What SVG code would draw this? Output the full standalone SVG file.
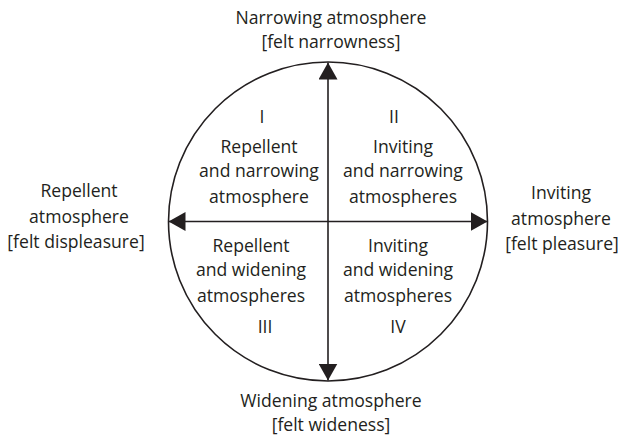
<svg xmlns="http://www.w3.org/2000/svg" width="620" height="437" viewBox="0 0 620 437">
  <style>
    text { font-family: "Open Sans", "Liberation Sans", sans-serif; font-size: 17.6px; fill: #231f20; text-anchor: middle; }
    .axis { stroke: #231f20; stroke-width: 1.6; fill: none; }
  </style>
  <defs>
    <marker id="head" viewBox="0 0 17 19" refX="17" refY="9.5" markerWidth="17" markerHeight="19" markerUnits="userSpaceOnUse" orient="auto">
      <path d="M0,0 L17,9.5 L0,19 Z" fill="#231f20"/>
    </marker>
  </defs>
  <rect width="620" height="437" fill="#ffffff"/>

  <g id="circle">
    <circle cx="328" cy="221.5" r="159.5" class="axis"/>
  </g>

  <g id="connectors">
    <line x1="328" y1="221.5" x2="328" y2="62.5" class="axis" marker-end="url(#head)"/>
    <line x1="328" y1="221.5" x2="328" y2="380.5" class="axis" marker-end="url(#head)"/>
    <line x1="328" y1="221.5" x2="168.5" y2="221.5" class="axis" marker-end="url(#head)"/>
    <line x1="328" y1="221.5" x2="487.5" y2="221.5" class="axis" marker-end="url(#head)"/>
  </g>

  <g id="pole-top">
    <text x="331" y="24">Narrowing atmosphere</text>
    <text x="331" y="48">[felt narrowness]</text>
  </g>
  <g id="pole-bottom">
    <text x="331" y="407">Widening atmosphere</text>
    <text x="331" y="431">[felt wideness]</text>
  </g>
  <g id="pole-left">
    <text x="79" y="197">Repellent</text>
    <text x="79" y="223">atmosphere</text>
    <text x="76" y="248">[felt displeasure]</text>
  </g>
  <g id="pole-right">
    <text x="561" y="199">Inviting</text>
    <text x="561" y="225">atmosphere</text>
    <text x="562" y="250">[felt pleasure]</text>
  </g>

  <g id="quadrant-1">
    <text x="262" y="123">I</text>
    <text x="259" y="153">Repellent</text>
    <text x="259" y="177">and narrowing</text>
    <text x="259" y="203">atmosphere</text>
  </g>
  <g id="quadrant-2">
    <text x="394" y="123">II</text>
    <text x="403" y="153">Inviting</text>
    <text x="403" y="177">and narrowing</text>
    <text x="403" y="203">atmospheres</text>
  </g>
  <g id="quadrant-3">
    <text x="251" y="252">Repellent</text>
    <text x="251" y="276">and widening</text>
    <text x="251" y="302">atmospheres</text>
    <text x="265" y="333">III</text>
  </g>
  <g id="quadrant-4">
    <text x="398" y="252">Inviting</text>
    <text x="398" y="276">and widening</text>
    <text x="398" y="302">atmospheres</text>
    <text x="398" y="333">IV</text>
  </g>
</svg>
